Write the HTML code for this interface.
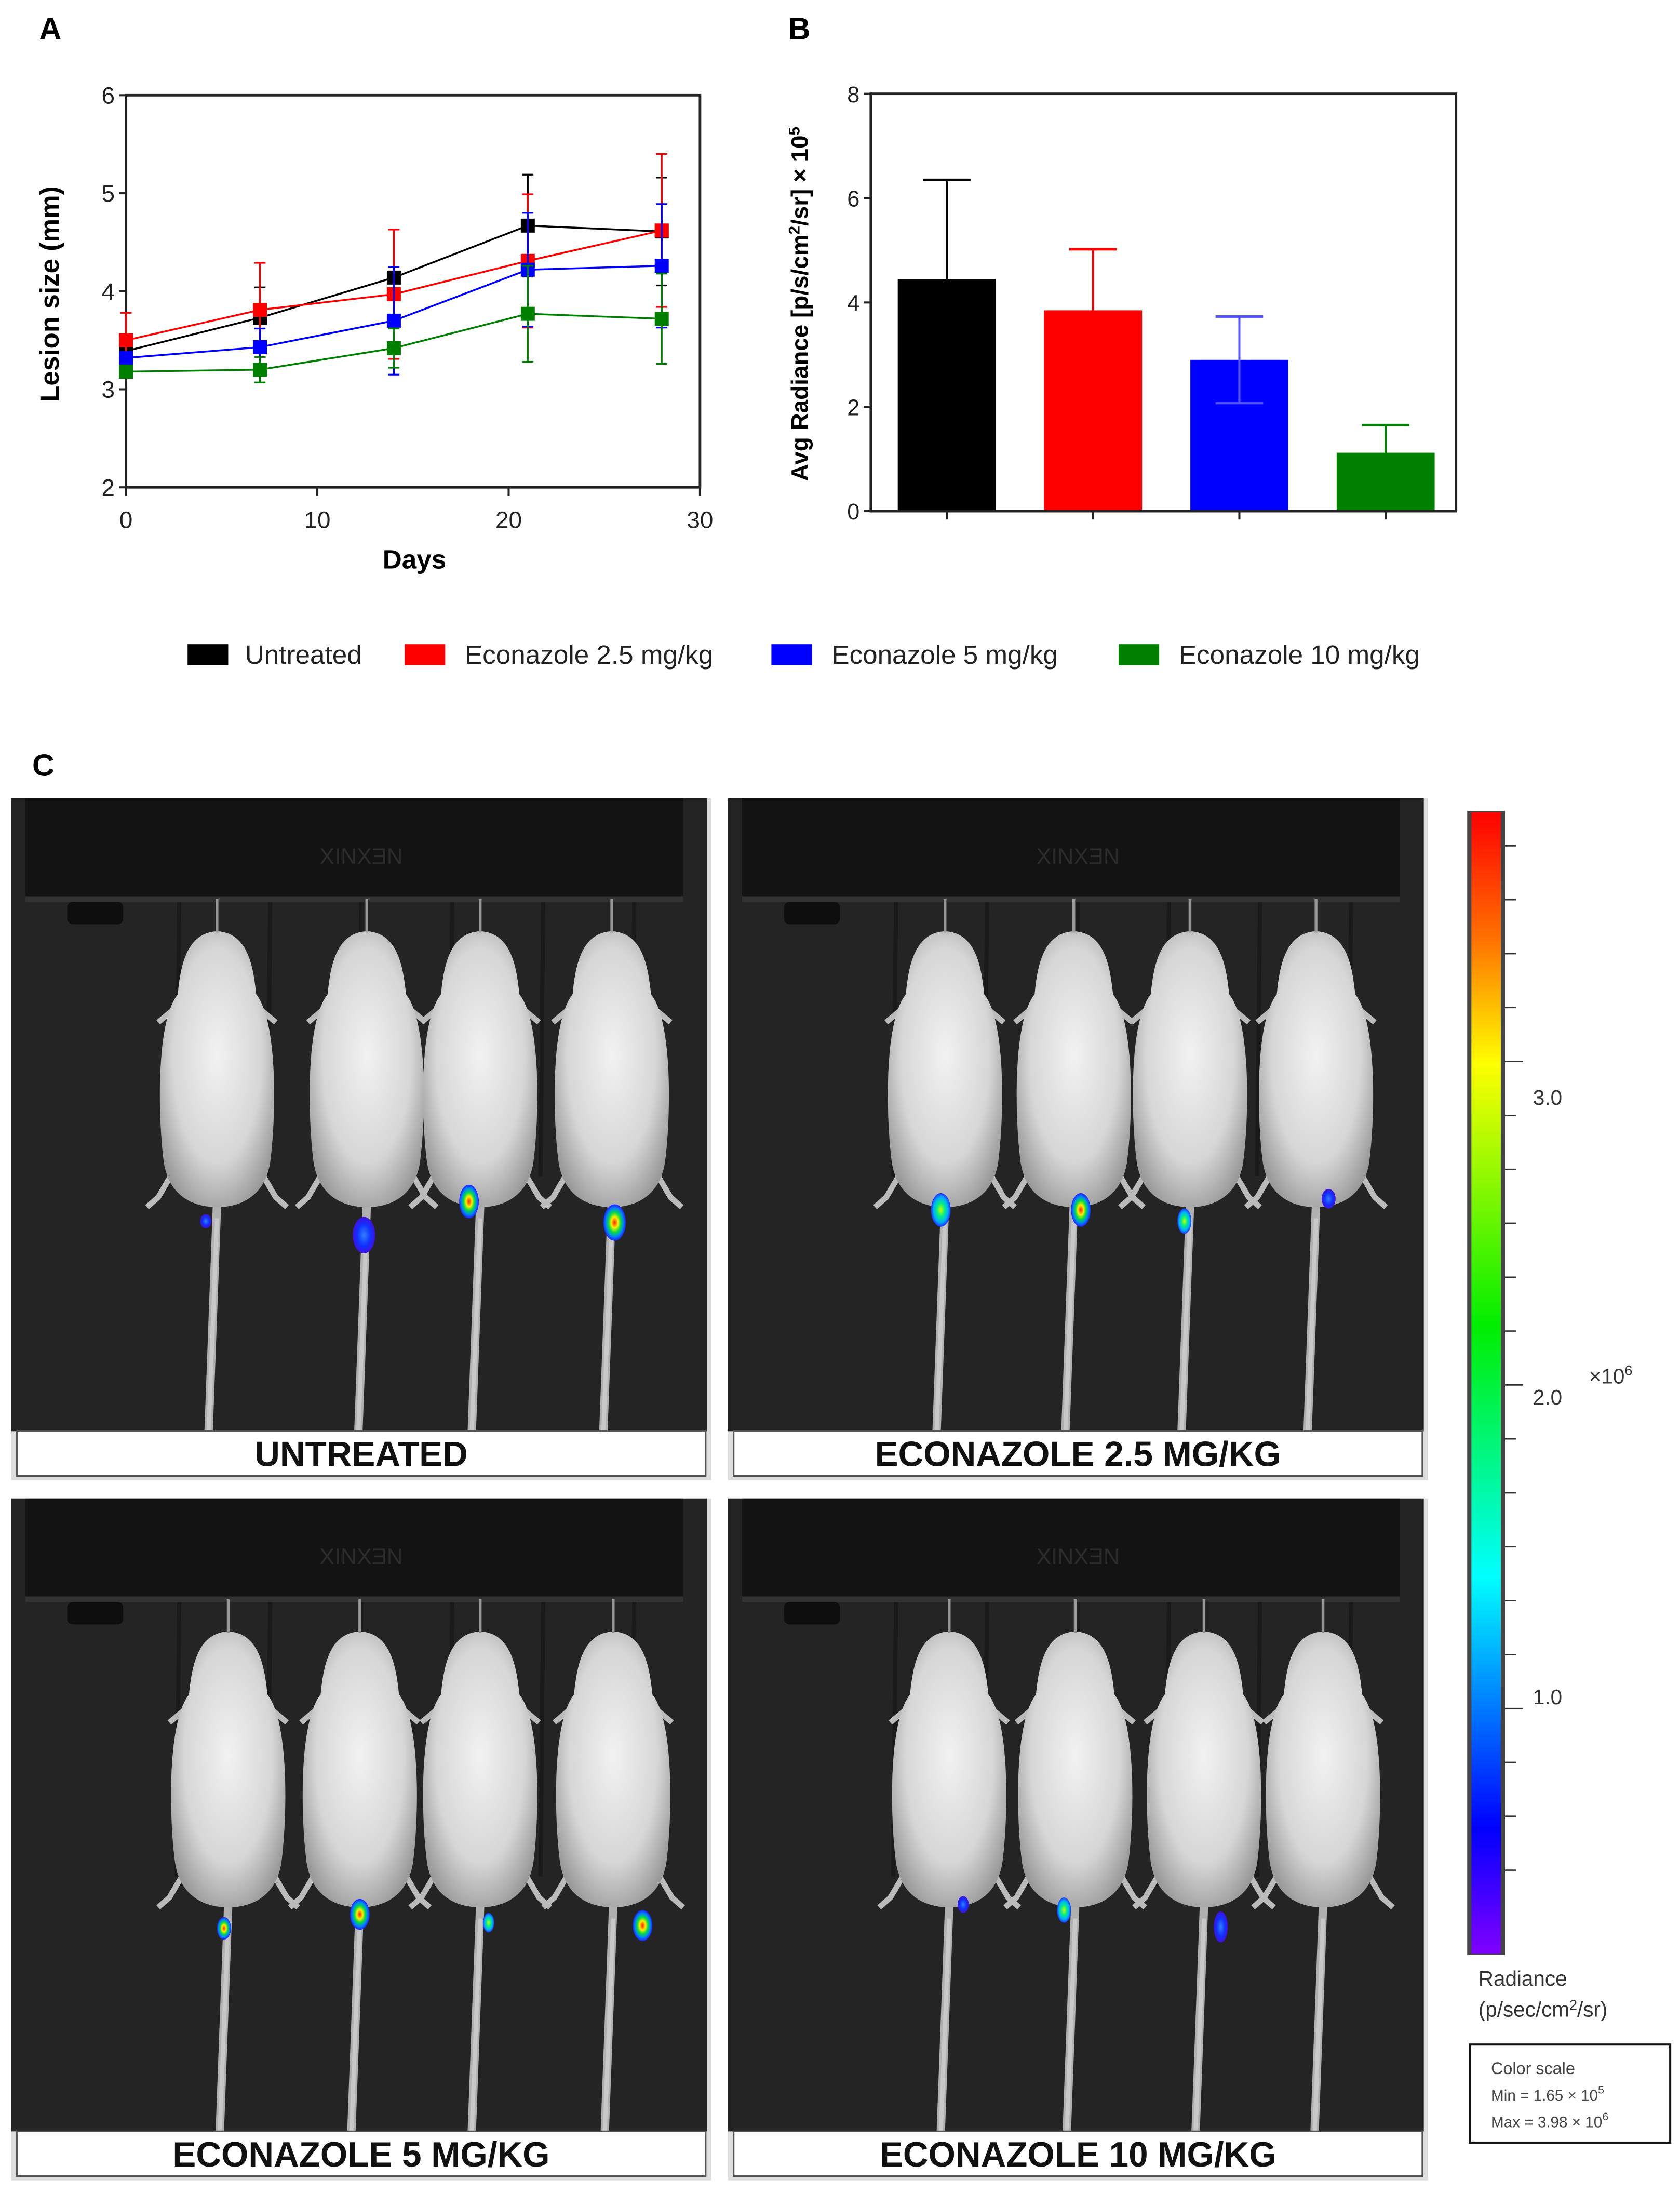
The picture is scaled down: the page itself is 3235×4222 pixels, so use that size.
<!DOCTYPE html>
<html><head><meta charset="utf-8"><style>
html,body{margin:0;padding:0;background:#fff;}
svg{display:block;}
text{font-family:"Liberation Sans",Arial,sans-serif;}
</style></head><body>
<svg id="fig" xmlns="http://www.w3.org/2000/svg" width="3235" height="4222" viewBox="0 0 1200 1566" preserveAspectRatio="none">
<defs>
<linearGradient id="cbar" x1="0" y1="0" x2="0" y2="1">
<stop offset="0" stop-color="#ff0000"/><stop offset="0.11" stop-color="#ff7000"/><stop offset="0.22" stop-color="#ffff00"/><stop offset="0.45" stop-color="#00ee00"/><stop offset="0.67" stop-color="#00ffff"/><stop offset="0.89" stop-color="#0000ff"/><stop offset="1" stop-color="#8000ff"/>
</linearGradient>
<radialGradient id="mouseg" cx="0.5" cy="0.45" r="0.6">
<stop offset="0" stop-color="#f2f2f2"/><stop offset="0.65" stop-color="#d6d6d6"/><stop offset="1" stop-color="#9a9a9a"/>
</radialGradient>
<radialGradient id="hot" cx="0.5" cy="0.5" r="0.5">
<stop offset="0" stop-color="#ff2000"/><stop offset="0.3" stop-color="#ffee00"/><stop offset="0.55" stop-color="#00dd44"/><stop offset="0.8" stop-color="#0080ff"/><stop offset="1" stop-color="#2020ff"/>
</radialGradient>
<radialGradient id="mid" cx="0.5" cy="0.5" r="0.5">
<stop offset="0" stop-color="#ccff00"/><stop offset="0.4" stop-color="#00ee88"/><stop offset="0.75" stop-color="#00aaff"/><stop offset="1" stop-color="#2030ff"/>
</radialGradient>
<radialGradient id="cold" cx="0.5" cy="0.5" r="0.5">
<stop offset="0" stop-color="#3080ff"/><stop offset="0.6" stop-color="#1030ff"/><stop offset="1" stop-color="#4010e0"/>
</radialGradient>
</defs>
<g id="chartA"></g>
<g id="chartB"></g>
<g id="legend"></g>
<g id="panels"></g>
<g id="cb"></g>
</svg>
<script>
// ---- Chart A data ----
const daysA = [0, 7, 14, 21, 28];
const untreatedMean = [3.39, 3.73, 4.14, 4.67, 4.61];
const untreatedErr = [0.05, 0.31, 0.49, 0.52, 0.55];
const econ25Mean = [3.50, 3.81, 3.97, 4.31, 4.62];
const econ25Err = [0.28, 0.48, 0.66, 0.68, 0.78];
const econ5Mean = [3.32, 3.43, 3.70, 4.22, 4.26];
const econ5Err = [0.05, 0.19, 0.55, 0.58, 0.63];
const econ10Mean = [3.18, 3.20, 3.42, 3.77, 3.72];
const econ10Err = [0.05, 0.13, 0.20, 0.49, 0.46];
const xTicksA = [0, 10, 20, 30];
const yTicksA = [2, 3, 4, 5, 6];
// ---- Chart B data ----
const groupsB = ["Untreated", "Econazole 2.5 mg/kg", "Econazole 5 mg/kg", "Econazole 10 mg/kg"];
const radianceMean = [4.45, 3.85, 2.90, 1.12];
const radianceErr = [1.90, 1.17, 0.83, 0.53];
const yTicksB = [0, 2, 4, 6, 8];
const colorsB = ["#000000", "#ff0000", "#0000ff", "#008000"];

const NS = "http://www.w3.org/2000/svg";
function mk(tag, attrs, parent, txt){
  const e = document.createElementNS(NS, tag);
  for (const k in attrs) e.setAttribute(k, attrs[k]);
  if (txt !== undefined) e.textContent = txt;
  parent.appendChild(e); return e;
}

// ---------- Chart A ----------
(function(){
  const g = document.getElementById('chartA');
  const L=90,R=500,T=68,B=348;
  const xs = d => L + (d-0)/(30-0)*(R-L);
  const ys = v => B - (v-2)/(6-2)*(B-T);
  let t = mk('text',{x:28,y:28,'font-size':22,'font-weight':'bold'},g,'A');
   
  let ax = mk('rect',{x:L,y:T,width:R-L,height:B-T,fill:'none',stroke:'#222','stroke-width':1.8},g);
   
  yTicksA.forEach(v=>{
    mk('line',{x1:L-5,x2:L,y1:ys(v),y2:ys(v),stroke:'#222','stroke-width':1.5},g);
    const tt = mk('text',{x:L-8,y:ys(v)+6,'font-size':17,'text-anchor':'end',fill:'#222'},g,String(v));
     
  });
  xTicksA.forEach(v=>{
    mk('line',{x1:xs(v),x2:xs(v),y1:B,y2:B+6,stroke:'#222','stroke-width':1.5},g);
    const tt = mk('text',{x:xs(v),y:B+29,'font-size':17,'text-anchor':'middle',fill:'#222'},g,String(v));
     
  });
  t = mk('text',{x:296,y:406,'font-size':19,'font-weight':'bold','text-anchor':'middle'},g,'Days');
   
  t = mk('text',{x:0,y:0,'font-size':19,'font-weight':'bold','text-anchor':'middle',transform:'translate(42,210) rotate(-90)'},g,'Lesion size (mm)');
   
  const series = [
    [untreatedMean, untreatedErr, '#000000','untreated'],
    [econ25Mean, econ25Err, '#ff0000','econazole-2-5'],
    [econ5Mean, econ5Err, '#0000ff','econazole-5'],
    [econ10Mean, econ10Err, '#008000','econazole-10']];
  series.forEach(([m,e,c,n])=>{
    const sg = mk('g',{},g);
     
    daysA.forEach((d,i)=>{
      const x=xs(d);
      mk('line',{x1:x,x2:x,y1:ys(m[i]-e[i]),y2:ys(m[i]+e[i]),stroke:c,'stroke-width':1.2},sg);
      mk('line',{x1:x-4,x2:x+4,y1:ys(m[i]+e[i]),y2:ys(m[i]+e[i]),stroke:c,'stroke-width':1.2},sg);
      mk('line',{x1:x-4,x2:x+4,y1:ys(m[i]-e[i]),y2:ys(m[i]-e[i]),stroke:c,'stroke-width':1.2},sg);
    });
    const p = mk('polyline',{points:daysA.map((d,i)=>xs(d)+','+ys(m[i])).join(' '),fill:'none',stroke:c,'stroke-width':1.3},sg);
     
    daysA.forEach((d,i)=>{
      const r = mk('rect',{x:xs(d)-5,y:ys(m[i])-5,width:10,height:10,fill:c},sg);
       
    });
  });
})();

// ---------- Chart B ----------
(function(){
  const g = document.getElementById('chartB');
  const L=622,R=1040,T=67,B=365;
  const ys = v => B - v/8*(B-T);
  const band = (R-L)/groupsB.length;
  let t = mk('text',{x:563,y:28,'font-size':22,'font-weight':'bold'},g,'B');
   
  yTicksB.forEach(v=>{
    mk('line',{x1:L-5,x2:L,y1:ys(v),y2:ys(v),stroke:'#222','stroke-width':1.5},g);
    const tt = mk('text',{x:L-8,y:ys(v)+6,'font-size':16,'text-anchor':'end',fill:'#222'},g,String(v));
     
  });
  groupsB.forEach((name,i)=>{
    const cx = L + band*(i+0.5) + 2;
    const w = 70;
    const r = mk('rect',{x:cx-w/2,y:ys(radianceMean[i]),width:w,height:ys(0)-ys(radianceMean[i]),fill:colorsB[i]},g);
     
    const top = ys(radianceMean[i]+radianceErr[i]);
    const ec = colorsB[i]==='#0000ff'?'#5555ff':colorsB[i];
    mk('line',{x1:cx,x2:cx,y1:ys(radianceMean[i]),y2:top,stroke:ec,'stroke-width':1.5},g);
    const cap = mk('line',{x1:cx-17,x2:cx+17,y1:top,y2:top,stroke:ec,'stroke-width':1.8},g);
     
    if (i===2){
      const lo = ys(radianceMean[i]-radianceErr[i]);
      mk('line',{x1:cx,x2:cx,y1:ys(radianceMean[i]),y2:lo,stroke:'#5555ff','stroke-width':1.5},g);
      mk('line',{x1:cx-17,x2:cx+17,y1:lo,y2:lo,stroke:'#5555ff','stroke-width':1.5},g);
    }
    mk('line',{x1:cx,x2:cx,y1:B,y2:B+6,stroke:'#222','stroke-width':1.5},g);
  });
  const ax = mk('rect',{x:L,y:T,width:R-L,height:B-T,fill:'none',stroke:'#222','stroke-width':1.8},g);
   
  t = mk('text',{x:0,y:0,'font-size':17,'font-weight':'bold','text-anchor':'middle',transform:'translate(577,217) rotate(-90)'},g);
  t.innerHTML = 'Avg Radiance [p/s/cm<tspan dy="-6" font-size="11">2</tspan><tspan dy="6">/sr] × 10</tspan><tspan dy="-6" font-size="11">5</tspan>';
   
})();

// ---------- Legend ----------
(function(){
  const g = document.getElementById('legend');
  const bx=[134,289,551,799], tx=[175,332,594,842];
  groupsB.forEach((n,i)=>{
    const r = mk('rect',{x:bx[i],y:460,width:29,height:15,fill:colorsB[i]},g);
     
    const t = mk('text',{x:tx[i],y:474,'font-size':19,fill:'#222'},g,n);
     
  });
})();

// ---------- Panels C ----------
(function(){
  const g = document.getElementById('panels');
  let t = mk('text',{x:23,y:554,'font-size':22,'font-weight':'bold'},g,'C');
   
  const panels = [
    {x:8,y:570,label:'UNTREATED',mice:[147,254,335,429],spots:[[139,302,4,5,'cold'],[252,312,8,13,'cold'],[327,288,7,12,'hot'],[431,303,8,13,'hot']]},
    {x:520,y:570,label:'ECONAZOLE 2.5 MG/KG',mice:[155,247,330,420],spots:[[152,294,7,12,'mid'],[252,294,7,12,'hot'],[326,302,5,9,'mid'],[429,286,5,7,'cold']]},
    {x:8,y:1070,label:'ECONAZOLE 5 MG/KG',mice:[155,249,335,430],spots:[[152,307,5,8,'hot'],[249,297,7,11,'hot'],[341,303,4,7,'mid'],[451,305,7,11,'hot']]},
    {x:520,y:1070,label:'ECONAZOLE 10 MG/KG',mice:[158,248,340,425],spots:[[168,290,4,6,'cold'],[240,294,5,9,'mid'],[352,306,5,11,'cold']]}
  ];
  panels.forEach((p,pi)=>{
    const pg = mk('g',{transform:`translate(${p.x},${p.y})`},g);
     
    mk('rect',{x:0,y:0,width:500,height:487,fill:'#ddd'},pg);
    mk('rect',{x:0,y:0,width:497,height:452,fill:'#242424'},pg);
    mk('rect',{x:10,y:0,width:470,height:72,fill:'#131313'},pg);
    mk('rect',{x:10,y:70,width:470,height:4,fill:'#333'},pg);
    mk('rect',{x:40,y:74,width:40,height:16,rx:4,fill:'#0e0e0e'},pg);
    mk('text',{x:250,y:47,'font-size':16,'text-anchor':'middle',fill:'#2c2c2c'},pg,'XINXƎN');
    for(let k=0;k<6;k++) mk('line',{x1:120+k*65,x2:118+k*65,y1:74,y2:270,stroke:'#1a1a1a','stroke-width':3},pg);
    p.mice.forEach((mx,mi)=>{
      const m = mk('g',{},pg);
       
      mk('path',{d:`M${mx} 290 Q${mx-3} 370 ${mx-6} 452`,stroke:'#b0b0b0','stroke-width':6,fill:'none','stroke-linecap':'round'},m);
      mk('path',{d:`M${mx} 300 Q${mx-3} 370 ${mx-6} 452`,stroke:'#c8c8c8','stroke-width':3,fill:'none'},m);
      mk('path',{d:`M${mx-32} 268 L${mx-42} 285 L${mx-50} 292`,stroke:'#bbb','stroke-width':4,fill:'none'},m);
      mk('path',{d:`M${mx+32} 268 L${mx+42} 285 L${mx+50} 292`,stroke:'#bbb','stroke-width':4,fill:'none'},m);
      mk('path',{d:`M${mx-30} 150 L${mx-42} 160 M${mx+30} 150 L${mx+42} 160`,stroke:'#bbb','stroke-width':4,fill:'none'},m);
      mk('path',{d:`M${mx} 95 C${mx-22} 96 ${mx-26} 120 ${mx-28} 140 C${mx-44} 160 ${mx-42} 230 ${mx-38} 260 C${mx-34} 285 ${mx-16} 292 ${mx} 292 C${mx+16} 292 ${mx+34} 285 ${mx+38} 260 C${mx+42} 230 ${mx+44} 160 ${mx+28} 140 C${mx+26} 120 ${mx+22} 96 ${mx} 95 Z`,fill:'url(#mouseg)'},m);
      mk('line',{x1:mx,y1:72,x2:mx,y2:96,stroke:'#999','stroke-width':2},m);
    });
    p.spots.forEach(s=>{
      const e = mk('ellipse',{cx:s[0],cy:s[1],rx:s[2],ry:s[3],fill:`url(#${s[4]})`},pg);
       
    });
    mk('rect',{x:4,y:452,width:492,height:32,fill:'#fff',stroke:'#555','stroke-width':1.2},pg);
    const lt = mk('text',{x:250,y:477,'font-size':25,'font-weight':'bold','text-anchor':'middle',fill:'#111'},pg,p.label);
     
  });
})();

// ---------- Colorbar ----------
(function(){
  const g = document.getElementById('cb');
  mk('rect',{x:1048,y:579,width:27,height:817,fill:'#444'},g);
  const r = mk('rect',{x:1051,y:580,width:21,height:815,fill:'url(#cbar)'},g);
   
  for(let k=0;k<20;k++){
    const y = 604 + k*38.5;
    const major = (k===4||k===10||k===16);
    mk('line',{x1:1075,x2:major?1088:1083,y1:y,y2:y,stroke:'#333','stroke-width':1},g);
  }
  [['3.0',789],['2.0',1003],['1.0',1217]].forEach(([s,y])=>{
    const t = mk('text',{x:1095,y:y,'font-size':15,fill:'#333'},g,s);
     
  });
  let t = mk('text',{x:1135,y:988,'font-size':15,fill:'#333'},g);
  t.innerHTML='×10<tspan dy="-6" font-size="10">6</tspan>';
   
  t = mk('text',{x:1056,y:1418,'font-size':15,fill:'#333'},g,'Radiance');
   
  t = mk('text',{x:1056,y:1440,'font-size':15,fill:'#333'},g);
  t.innerHTML='(p/sec/cm<tspan dy="-5" font-size="10">2</tspan><tspan dy="5">/sr)</tspan>';
  mk('rect',{x:1050,y:1460,width:143,height:70,fill:'#fff',stroke:'#111','stroke-width':1.5},g);
  t = mk('text',{x:1065,y:1481,'font-size':12,fill:'#444'},g,'Color scale');
   
  t = mk('text',{x:1065,y:1500,'font-size':11,fill:'#444'},g);
  t.innerHTML='Min = 1.65 × 10<tspan dy="-5" font-size="8">5</tspan>';
  t = mk('text',{x:1065,y:1519,'font-size':11,fill:'#444'},g);
  t.innerHTML='Max = 3.98 × 10<tspan dy="-5" font-size="8">6</tspan>';
})();
</script>
</body></html>
